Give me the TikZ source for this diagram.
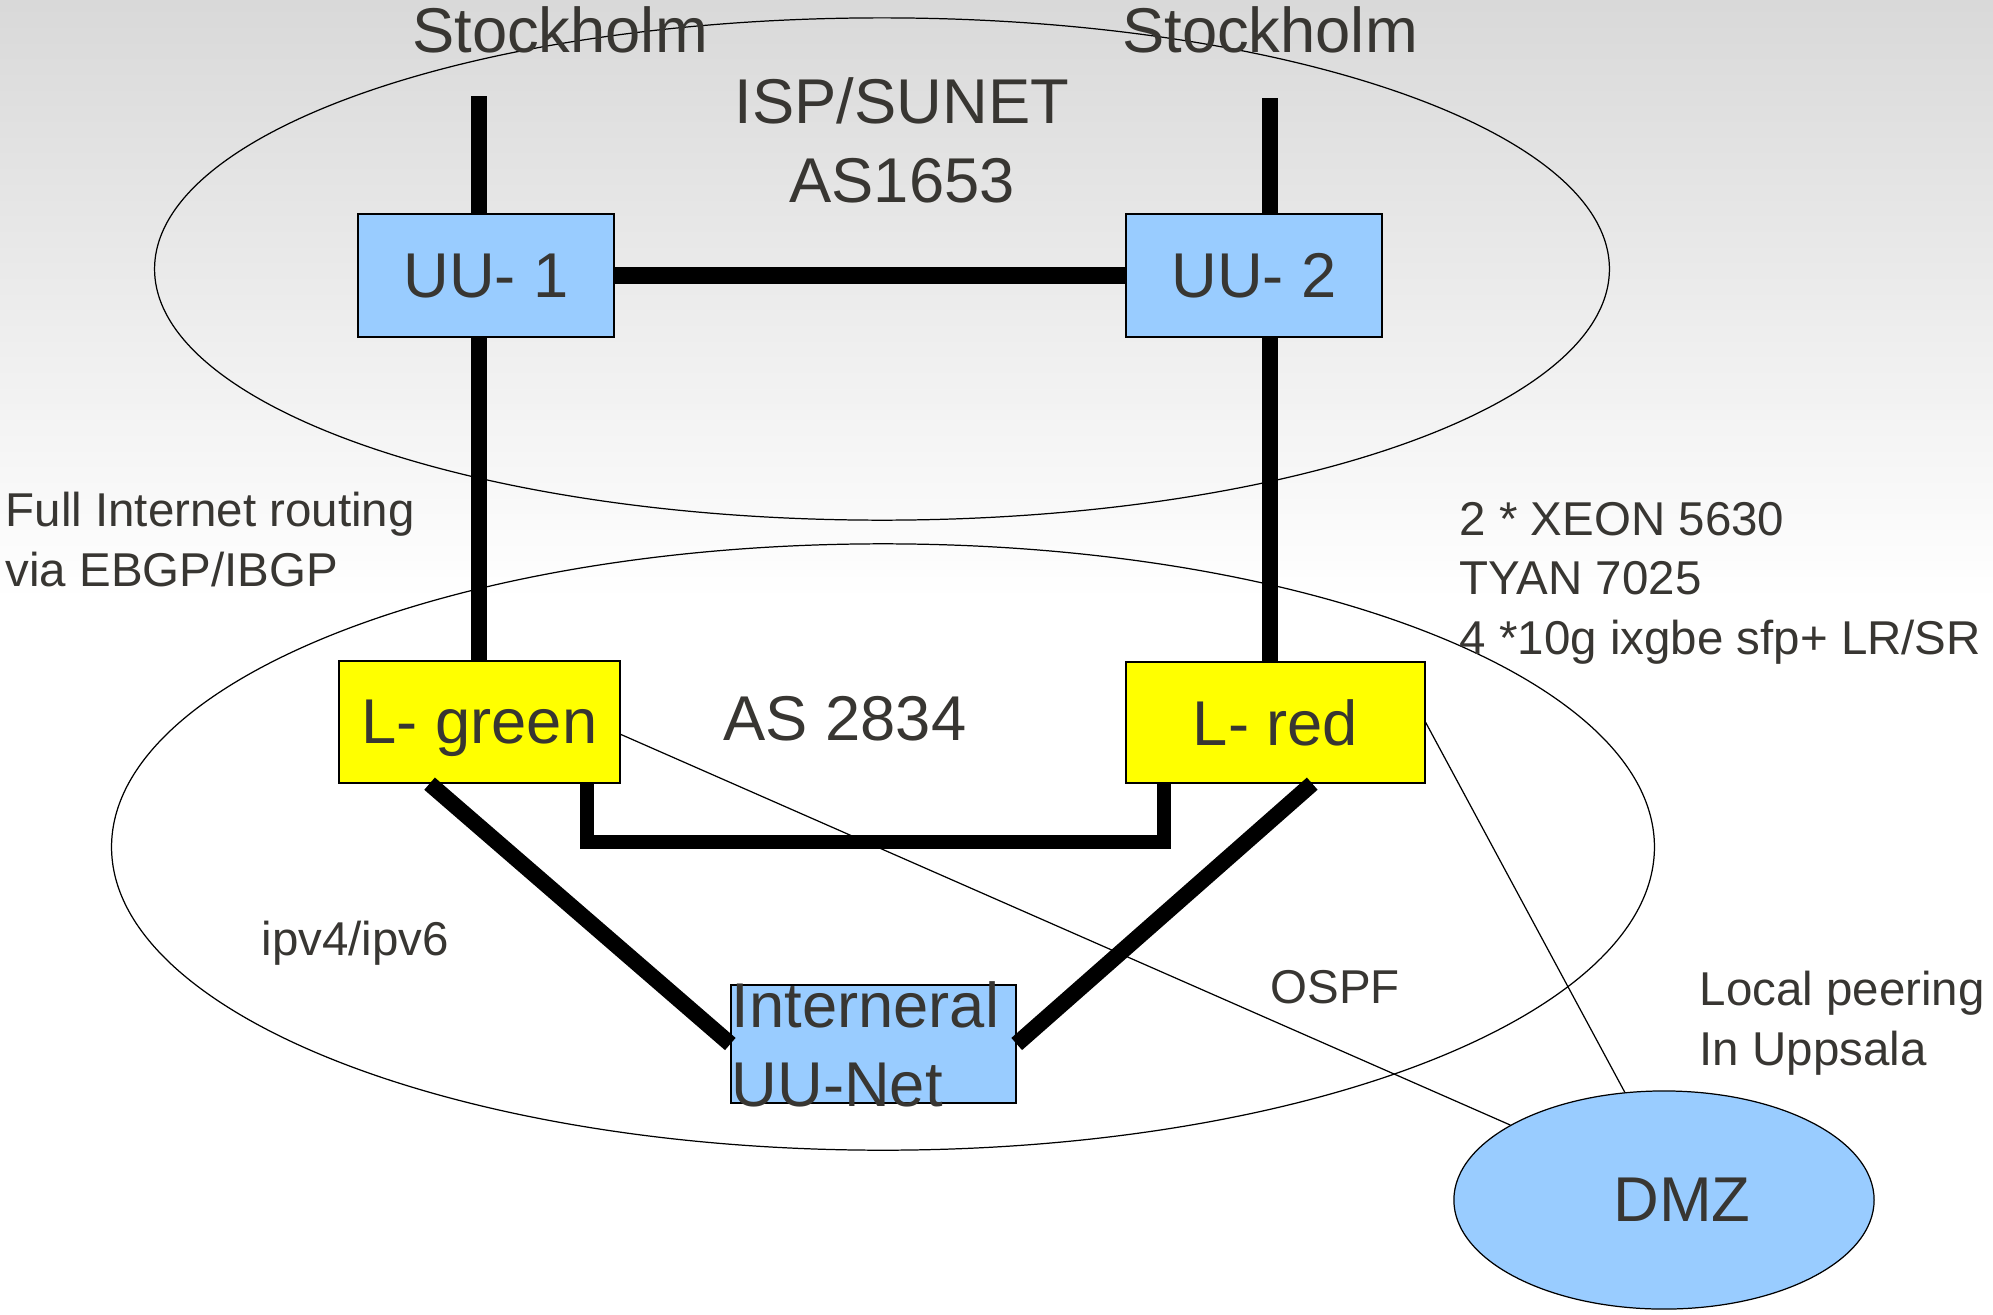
\documentclass[tikz,border=0pt]{standalone}
\usepackage{fontspec}
\setmainfont{Liberation Sans}
\usepackage{tikz}
\usetikzlibrary{shapes.geometric}
\definecolor{txtgray}{RGB}{56,54,50}
\definecolor{netblue}{RGB}{153,204,255}
\definecolor{lyellow}{RGB}{255,255,0}
\tikzstyle{bigtext} = [text=txtgray, font=\fontsize{18}{22.4}\selectfont, inner sep=0pt]
\tikzstyle{smalltext} = [text=txtgray, font=\fontsize{13.5}{16.8}\selectfont,
    inner sep=0pt, align=left]
\tikzstyle{uubox} = [bigtext, draw=black, line width=0.35pt, fill=netblue,
    rectangle, text depth=0pt]
\tikzstyle{lbox} = [uubox, fill=lyellow]
\tikzstyle{link} = [line width=4.6pt]
\tikzstyle{wire} = [line width=0.35pt]

\begin{document}
\begin{tikzpicture}[x=0.01cm, y=-0.01cm]
    \useasboundingbox (0,0) rectangle (1993,1314);
    \shade[top color=black!15, bottom color=white] (0,0) rectangle (1993,600);
    \fill[white] (0,600) rectangle (1993,1314);

    \draw[wire] (882,269) ellipse [x radius=7.27cm, y radius=2.51cm];
    \draw[wire] (883,847) ellipse [x radius=7.71cm, y radius=3.03cm];

    \node[uubox, minimum width=2.56cm, minimum height=1.23cm] (UU1) at (486,275.5) {UU- 1};
    \node[uubox, minimum width=2.56cm, minimum height=1.23cm] (UU2) at (1254,275.5) {UU- 2};
    \node[lbox, minimum width=2.81cm, minimum height=1.22cm] (Lgreen) at (479.5,722) {L- green};
    \node[lbox, minimum width=2.99cm, minimum height=1.21cm] (Lred) at (1275.5,722.5) {L- red};
    \node[uubox, minimum width=2.85cm, minimum height=1.18cm] (intern) at (873.5,1044) {};
    \node[bigtext, align=left, anchor=base west] (internText) at (731,1106) {Interneral\\UU-Net};
    \node[uubox, ellipse, minimum width=4.2cm, minimum height=2.18cm] (DMZ) at (1664,1200) {\hspace*{0.36cm}DMZ};

    \node[bigtext, anchor=base] (stockL) at (560,52) {Stockholm};
    \node[bigtext, anchor=base] (stockR) at (1270,52) {Stockholm};
    \node[bigtext, align=center, anchor=base] (isp) at (902,202) {ISP/SUNET\\AS1653};
    \node[bigtext, anchor=base] (as2834) at (845,740) {AS 2834};
    \node[smalltext, anchor=base west] (routing) at (5,586) {Full Internet routing\\via EBGP/IBGP};
    \node[smalltext, anchor=base west] (hw) at (1459,654) {2 * XEON 5630\\TYAN 7025\\4 *10g ixgbe sfp+ LR/SR};
    \node[smalltext, anchor=base west] (ipv) at (261,955) {ipv4/ipv6};
    \node[smalltext, anchor=base west] (ospf) at (1270,1003) {OSPF};
    \node[smalltext, anchor=base west] (peering) at (1699,1065) {Local peering\\In Uppsala};

    \coordinate (topL) at (479,96);
    \coordinate (topR) at (1270,98);
    \coordinate (brL) at (587,842);
    \coordinate (brR) at (1164,842);

    \draw[link] (topL) -- (topL |- UU1.north);
    \draw[link] (topL |- UU1.south) -- (topL |- Lgreen.north);
    \draw[link] (topR) -- (topR |- UU2.north);
    \draw[link] (topR |- UU2.south) -- (topR |- Lred.north);
    \draw[link] (UU1) -- (UU2);
    \draw[link, line width=3.8pt] (brL |- Lgreen.south) -- (brL) -- (brR) -- (brR |- Lred.south);
    \draw[link] (Lgreen.-129) -- (intern.west);
    \draw[link] (Lred.-59) -- (intern.east);
    \draw[wire] (Lgreen.-5) -- (DMZ.154);
    \draw[wire] (Lred.east) -- (DMZ.110);
\end{tikzpicture}
\end{document}
